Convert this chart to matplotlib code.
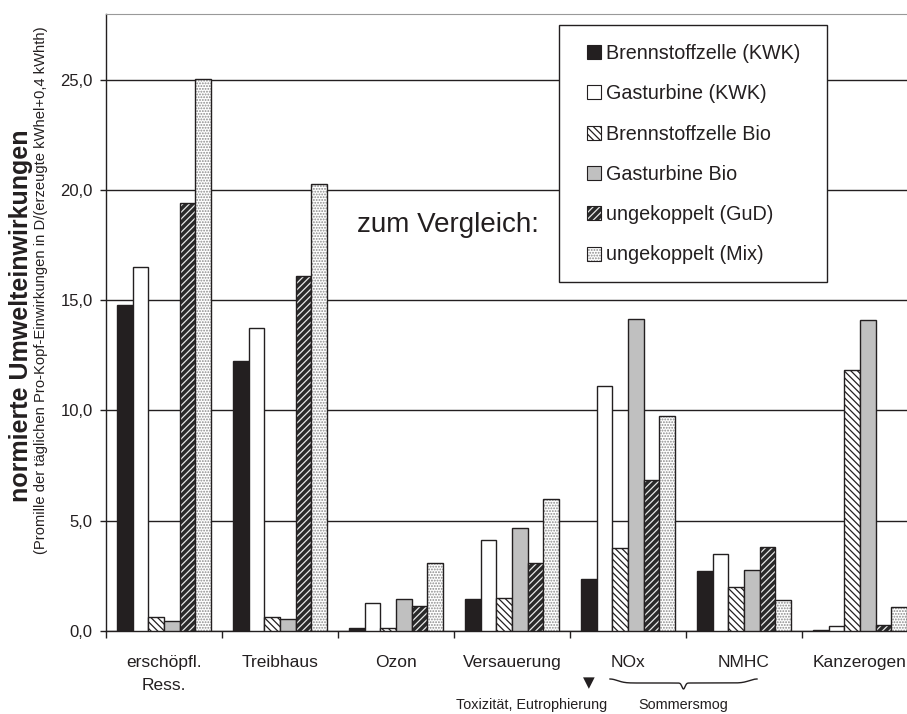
import numpy as np
import matplotlib
matplotlib.use("Agg")
import matplotlib.pyplot as plt
from matplotlib.patches import Patch, Rectangle
from matplotlib.colors import to_rgba
from matplotlib.ticker import FuncFormatter

plt.rcParams['font.family'] = ['Liberation Sans', 'DejaVu Sans']
plt.rcParams['hatch.linewidth'] = 0.9

categories = ["erschöpfl.\nRess.", "Treibhaus", "Ozon", "Versauerung", "NOx", "NMHC", "Kanzerogen"]
series_names = ["Brennstoffzelle (KWK)", "Gasturbine (KWK)", "Brennstoffzelle Bio",
                "Gasturbine Bio", "ungekoppelt (GuD)", "ungekoppelt (Mix)"]

bz_kwk = [14.8, 12.25, 0.13, 1.42, 2.35, 2.72, 0.05]
gt_kwk = [16.5, 13.75, 1.27, 4.13, 11.1, 3.47, 0.2]
bz_bio = [0.64, 0.63, 0.1, 1.5, 3.77, 1.98, 11.82]
gt_bio = [0.43, 0.55, 1.46, 4.65, 14.15, 2.77, 14.1]
gud = [19.4, 16.1, 1.1, 3.09, 6.84, 3.8, 0.25]
mix = [25.05, 20.3, 3.06, 5.97, 9.76, 1.38, 1.06]
values = [bz_kwk, gt_kwk, bz_bio, gt_bio, gud, mix]

ink = "#231f20"
# facecolor, hatch, hatch colour
styles = [
    (ink, None, ink),
    ("white", None, ink),
    ("white", "\\\\\\\\\\", ink),
    ("#c0c0c0", None, ink),
    ("#2a2a2a", "/////", "#e8e8e8"),
    ("white", "......", "#8a8a8a"),
]


def tint_hatch(patch, colour):
    # matplotlib takes the hatch colour from the edge colour, so set it by hand
    patch._hatch_color = to_rgba(colour)


W, H = 907, 714
fig = plt.figure(figsize=(W / 100, H / 100), dpi=100)
ax = fig.add_axes([106 / W, (H - 630.7) / H, (918 - 106) / W, (630.7 - 14) / H])

n = len(categories)
bw = 0.1345
x = np.arange(n) + 0.5
for j, (vals, (fc, hatch, hc)) in enumerate(zip(values, styles)):
    bars = ax.bar(x + (j - 2.5) * bw, vals, bw, facecolor=fc, edgecolor=ink,
                  linewidth=1.0, hatch=hatch, zorder=3)
    if hatch:
        for b in bars:
            tint_hatch(b, hc)

ax.set_xlim(0, n)
ax.set_ylim(0, 28)
ax.set_yticks([0, 5, 10, 15, 20, 25])
ax.yaxis.set_major_formatter(FuncFormatter(lambda v, p: f"{v:.1f}".replace(".", ",")))
ax.grid(axis="y", color=ink, linewidth=1.0, zorder=0)
ax.set_xticks(x)
ax.set_xticklabels(categories, fontsize=12.5, linespacing=1.7, color=ink)
ax.set_xticks(np.arange(n + 1), minor=True)
ax.tick_params(axis="x", which="major", length=0, pad=17.5)
ax.tick_params(axis="x", which="minor", length=5, width=1, direction="out", color=ink)
ax.tick_params(axis="y", length=4.5, width=1, pad=5, labelsize=12, color=ink, labelcolor=ink)
for s in ["left", "bottom"]:
    ax.spines[s].set_color(ink)
    ax.spines[s].set_linewidth(1.0)
ax.spines["top"].set_color("#999999")
ax.spines["right"].set_visible(False)

fig.text(357 / W, 1 - 225 / H, "zum Vergleich:", fontsize=20, color=ink,
         ha="left", va="center")

# legend: frame drawn separately so the padding matches
fig.add_artist(Rectangle((559 / W, 1 - 282 / H), (827 - 559) / W, (282 - 25) / H,
                         transform=fig.transFigure, facecolor="white",
                         edgecolor=ink, linewidth=1.0, zorder=4))
handles = [Patch(facecolor=fc, edgecolor=ink, hatch=h, linewidth=0.8)
           for fc, h, hc in styles]
leg = fig.legend(handles, series_names, loc="upper left",
                 bbox_to_anchor=(587 / W, 1 - 44 / H), fontsize=14.2,
                 frameon=False, handlelength=0.7, handleheight=0.7,
                 handletextpad=0.25, labelspacing=1.08, borderpad=0,
                 borderaxespad=0)
leg.set_zorder(5)
for t in leg.get_texts():
    t.set_color(ink)
for h, (fc, hatch, hc) in zip(leg.legend_handles, styles):
    if hatch:
        tint_hatch(h, hc)

fig.text(21 / W, (H - 316) / H, "normierte Umwelteinwirkungen", rotation=90,
         fontsize=18, fontweight="bold", ha="center", va="center", color=ink)
fig.text(41 / W, (H - 290) / H,
         "(Promille der täglichen Pro-Kopf-Einwirkungen in D/(erzeugte kWhel+0,4 kWhth)",
         rotation=90, fontsize=10.6, ha="center", va="center", color=ink)

# notes below the axis
fig.text(589 / W, 1 - 683 / H, "▼", fontsize=11, ha="center", va="center",
         color=ink, family=["DejaVu Sans"])
fig.text(532 / W, 1 - 705 / H, "Toxizität, Eutrophierung", fontsize=10.4,
         ha="center", va="center", color=ink)
fig.text(683 / W, 1 - 705 / H, "Sommersmog", fontsize=10.4,
         ha="center", va="center", color=ink)
bx = np.linspace(610, 757, 300)
t = (bx - 610) / (757 - 610)
by = 675 + 4 * (1 - np.exp(-((t * 14) ** 2))) + 4 * (1 - np.exp(-(((1 - t) * 14) ** 2)))
by = by + 6 * np.exp(-((t - 0.5) / 0.015) ** 2)
fig.add_artist(plt.Line2D(bx / W, 1 - by / H, color=ink, linewidth=1.0))

fig.savefig("out.png", dpi=100)
